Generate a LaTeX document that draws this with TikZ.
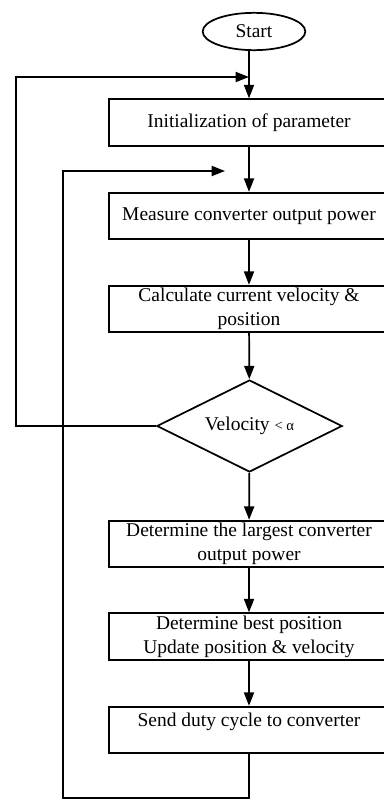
\documentclass[tikz,border=0pt]{standalone}
\usepackage{fontspec}
\setmainfont{Liberation Serif}
\usetikzlibrary{arrows.meta,shapes.geometric}

\begin{document}
\begin{tikzpicture}[x=0.75pt, y=-0.75pt, line width=1.3pt, line join=miter,
    every node/.style={font=\fontsize{14.6}{18}\selectfont},
    box/.style={draw, rectangle, minimum width=210pt, minimum height=35pt, inner sep=0pt, align=center},
    flow/.style={-{Triangle[length=10pt, width=7.5pt]}}]
  \useasboundingbox (0, 0) rectangle (383, 800);
  \node[draw, ellipse, minimum width=77pt, minimum height=28pt, inner sep=0pt] (start) at (254, 31.5) {Start};
  \node[box] (init) at (249, 122.5) {Initialization of parameter};
  \node[box] (measure) at (249, 216) {Measure converter output power};
  \node[box] (calc) at (249, 309) {Calculate current velocity \&\\position};
  \node[draw, diamond, aspect=2, minimum width=139pt, minimum height=69pt, inner sep=0pt] (check) at (249.5, 426)
    {Velocity {\fontsize{11}{13}\selectfont< α}};
  \node[box] (largest) at (249, 544) {Determine the largest converter\\output power};
  \node[box] (best) at (249, 636.5) {Determine best position\\Update position \& velocity};
  \node[box, text depth=15pt] (send) at (249, 730) {Send duty cycle to converter};

  \coordinate (outercorner) at (16, 77);
  \coordinate (outerin) at (249, 77);
  \coordinate (innerbottom) at (63, 798);
  \coordinate (innertop) at (63, 171);
  \coordinate (innerin) at (225, 171);

  \draw[flow] (start.south -| init) -- (init.north);
  \draw[flow] (init) -- (measure);
  \draw[flow] (measure) -- (calc);
  \draw[flow] (calc) -- (check);
  \draw[flow] (check) -- (largest);
  \draw[flow] (largest) -- (best);
  \draw[flow] (best) -- (send);
  \draw[flow] (check.west) -| (outercorner) -- (outerin);
  \draw[flow] (send.south) |- (innerbottom) -- (innertop) -- (innerin);
\end{tikzpicture}
\end{document}
